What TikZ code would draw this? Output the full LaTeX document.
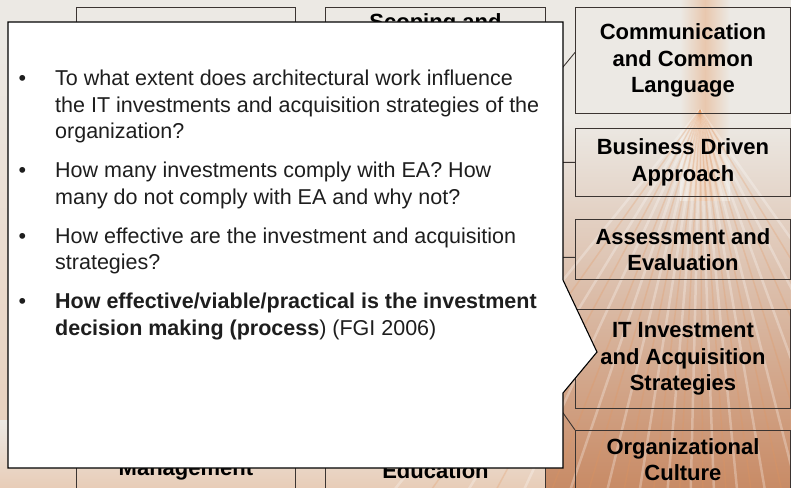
\documentclass[tikz,border=0pt]{standalone}
\usepackage{fontspec}
\setmainfont{Liberation Sans}
\usetikzlibrary{positioning}

\definecolor{boxline}{HTML}{3B3431}
\definecolor{bgpale}{HTML}{ECE9E4}
\definecolor{bgsand}{HTML}{E8CDB8}
\definecolor{bgrust}{HTML}{C88B66}
\definecolor{bgmauve}{HTML}{D4B0A2}
\definecolor{raywarm}{HTML}{E3955C}
\definecolor{qink}{HTML}{1E1E1E}

\tikzset{
  pillar/.style={draw=boxline, line width=0.9pt, anchor=north west, inner sep=0pt,
    font=\bfseries\fontsize{22}{26.5}\selectfont, align=center},
  factor/.style={pillar, minimum width=215pt},
  pillarlbl/.style={font=\bfseries\fontsize{22}{26.5}\selectfont, inner sep=0pt},
  link/.style={draw=boxline, line width=0.9pt},
  callout/.style={fill=white, draw=black, line width=1.1pt, line join=miter},
  qtext/.style={font=\fontsize{21.5}{26.5}\selectfont, text=qink, align=left,
    inner sep=0pt, anchor=north west},
}
\newcommand{\qbullet}{\llap{\textbullet\hspace{29pt}}}

\begin{document}
\begin{tikzpicture}[x=1pt,y=-1pt]
  \useasboundingbox (0,0) rectangle (791,487);

  % background photo, roughly
  \fill[bgpale] (0,0) rectangle (791,487);
  \shade[top color=bgpale, bottom color=bgsand] (0,40) rectangle (80,487);
  \shade[top color=bgpale, bottom color=bgsand] (0,420) rectangle (580,487);
  \shade[top color=bgpale, middle color=bgmauve, bottom color=bgrust] (545,120) rectangle (791,487);
  \shade[left color=bgpale, right color=bgpale, middle color=raywarm!40!bgpale] (680,0) rectangle (730,200);
  \foreach \dx in {-330,-250,-190,-140,-100,-65,-35,-10,15,40,70,105,150,210,290}
    \draw[white, opacity=0.28, line width=2.5pt] (700,110) -- ++(\dx,410);
  \foreach \dx in {-290,-220,-160,-120,-82,-50,-22,3,28,55,88,128,180,250}
    \draw[raywarm, opacity=0.25, line width=1.5pt] (700,110) -- ++(\dx,410);

  % left and middle pillars
  \node[pillar, minimum width=219pt, minimum height=300pt] (govern) at (76,7) {};
  \node[pillar, minimum width=219pt, minimum height=60pt] (mgmt) at (76,440) {Management};
  \node[pillar, minimum width=220pt, minimum height=300pt] (scoping) at (325,7) {};
  \node[pillarlbl, anchor=north] (scopinglbl) at ([yshift=-6pt]scoping.north) {Scoping and};
  \node[pillar, minimum width=220pt, minimum height=60pt] (edu) at (325,440) {Education};

  % right column factors
  \node[factor, minimum height=106pt] (comm) at (575,7) {Communication\\and Common\\Language};
  \node[factor, minimum height=68pt] (biz) at (575,128) {Business Driven\\Approach};
  \node[factor, minimum height=60pt] (assess) at (575,219) {Assessment and\\Evaluation};
  \node[factor, minimum height=99pt] (itinv) at (575,309) {IT Investment\\and Acquisition\\Strategies};
  \node[factor, minimum height=58pt] (org) at (575,430) {Organizational\\Culture};

  % links from the hub to the factors
  \coordinate (hub1) at (540,95);
  \coordinate (hub2) at (540,162);
  \coordinate (hub3) at (540,257);
  \coordinate (hub5) at (540,380);
  \draw[link] (hub1) -- ([yshift=8pt]comm.west);
  \draw[link] (hub2) -- (biz.west);
  \draw[link] (hub3) -- ([yshift=-8pt]assess.west);
  \draw[link] (hub5) -- (org.north west);

  % callout with the questions
  \coordinate (tip) at (597,352);
  \draw[callout] (8,22) -- (563,22) -- (563,280) -- (tip) -- (563,393)
    -- (563,468) -- (8,468) -- cycle;
  \node[qtext] (questions) at (55,70) {%
    \qbullet To what extent does architectural work influence\\
    the IT investments and acquisition strategies of the\\
    organization?\\[12.5pt]
    \qbullet How many investments comply with EA? How\\
    many do not comply with EA and why not?\\[12.5pt]
    \qbullet How effective are the investment and acquisition\\
    strategies?\\[12.5pt]
    \qbullet\textbf{How effective/viable/practical is the investment}\\
    \textbf{decision making (process}) (FGI 2006)};
\end{tikzpicture}
\end{document}
